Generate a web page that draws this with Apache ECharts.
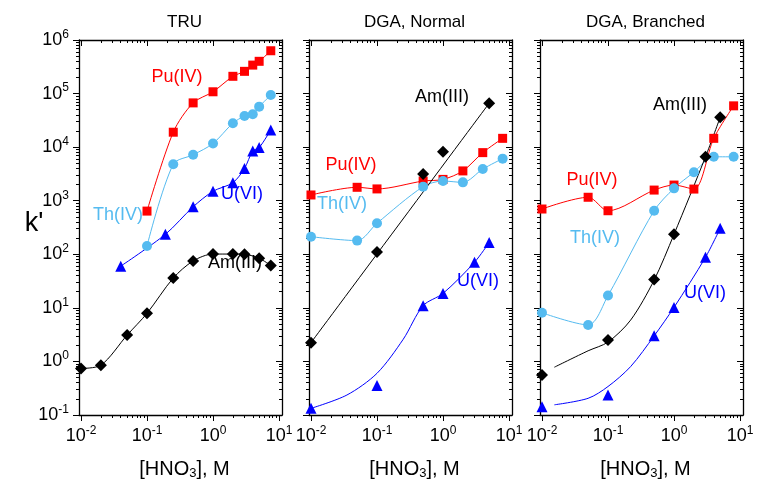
<!DOCTYPE html>
<html>
<head>
<meta charset="utf-8">
<script src="https://cdn.jsdelivr.net/npm/echarts@6.0.0/dist/echarts.min.js"></script>
<style>
  html, body { margin: 0; padding: 0; background: #fff; }
  #main { width: 759px; height: 486px; }
</style>
</head>
<body>
<div id="main"></div>
<script>
// ---- data: [HNO3] (M) and k' ----
// TRU
var truPuX = [0.1, 0.25, 0.5, 1, 2, 3, 4, 5, 7.5];
var truPuK = [640, 19000, 67000, 108000, 210000, 260000, 340000, 400000, 630000];
var truThX = [0.1, 0.25, 0.5, 1, 2, 3, 4, 5, 7.5];
var truThK = [143, 4800, 7200, 11700, 28000, 38000, 41000, 57000, 94000];
var truUX = [0.04, 0.19, 0.5, 1, 2, 3, 4, 5, 7.5];
var truUK = [60, 236, 770, 1500, 2170, 4000, 8500, 9800, 21000];
var truAmX = [0.01, 0.02, 0.05, 0.1, 0.25, 0.5, 1, 2, 3, 5, 7.5];
var truAmK = [0.74, 0.85, 3.1, 7.9, 36, 75, 101, 101, 100, 84, 62];

// DGA, Normal
var norPuX = [0.01, 0.05, 0.1, 0.5, 1, 2, 4, 8];
var norPuK = [1280, 1780, 1660, 2330, 2500, 3600, 7900, 14600];
var norThX = [0.01, 0.05, 0.1, 0.5, 1, 2, 4, 8];
var norThK = [213, 180, 380, 1830, 2330, 2200, 3900, 6100];
var norAmX = [0.01, 0.1, 0.5, 1, 5];
var norAmK = [2.24, 110, 3150, 8200, 66000];
var norAmFitX = [0.01, 5];
var norAmFitK = [2.24, 66000];
var norUX = [0.01, 0.1, 0.5, 1, 3, 5];
var norUK = [0.133, 0.355, 11, 18.6, 71, 166];
var norUFitX = [0.01, 0.035, 0.1, 0.25, 0.5, 1, 3, 5];
var norUFitK = [0.133, 0.236, 0.6, 2.6, 11, 18.6, 71, 166];

// DGA, Branched
var brPuX = [0.01, 0.05, 0.1, 0.5, 1, 2, 4, 8];
var brPuK = [700, 1160, 650, 1580, 1960, 1650, 14600, 59000];
var brThX = [0.01, 0.05, 0.1, 0.5, 1, 2, 4, 8];
var brThK = [8.1, 4.8, 17, 650, 1700, 3400, 6600, 6600];
var brAmX = [0.01, 0.1, 0.5, 1, 3, 5];
var brAmK = [0.56, 2.5, 34, 236, 6600, 36000];
var brAmFitX = [0.0154, 0.05, 0.1, 0.22, 0.5, 1, 3, 5];
var brAmFitK = [0.78, 1.58, 2.3, 5.9, 33, 236, 6600, 36000];
var brUX = [0.01, 0.1, 0.5, 1, 3, 5];
var brUK = [0.143, 0.236, 3.0, 10.2, 88, 305];
var brUFitX = [0.0154, 0.05, 0.1, 0.22, 0.5, 1, 3, 5];
var brUFitK = [0.155, 0.205, 0.34, 0.8, 3.0, 10.2, 88, 305];

var panelTitles = ['TRU', 'DGA, Normal', 'DGA, Branched'];
var xTickPowers = [-2, -1, 0, 1];
var yTickPowers = [-1, 0, 1, 2, 3, 4, 5, 6];

// ---- layout / style ----
var FONT = '"Liberation Sans", Arial, sans-serif';
var gridLeft = [79, 309, 540];
var gridW = 203, gridTop = 40, gridH = 375;
var xMin = -2.03, xMax = 1.045, yMin = -1, yMax = 6;

var RED = '#ff0000', LBLUE = '#55bbf0', BLUE = '#0000ff', BLACK = '#000000';

function pairs(xs, ks) {
  return xs.map(function (x, i) { return [Math.log10(x), Math.log10(ks[i])]; });
}
function minors(lo, hi) {
  var out = [];
  for (var n = Math.floor(lo); n < hi; n++) {
    for (var k = 2; k <= 9; k++) {
      var v = n + Math.log10(k);
      if (v > lo && v < hi) out.push(v);
    }
  }
  return out;
}
function powLabel(v) {
  var p = Math.round(v);
  return '{b|10}{s|' + (p < 0 ? '-' + (-p) : p) + '}';
}
var labelRich = {
  b: { fontSize: 18, fontFamily: FONT, color: '#000' },
  s: { fontSize: 12, fontFamily: FONT, color: '#000', padding: [0, 0, 11, 0] }
};

function axisCommon(min, max, pos, major, inside, ticks) {
  return {
    type: 'value', min: min, max: max, position: pos,
    axisLine: { show: major, onZero: false, lineStyle: { color: '#000', width: 1.3 } },
    axisTick: { show: true, inside: inside, length: major ? 6 : 3, customValues: ticks, lineStyle: { color: '#000', width: 1 } },
    axisLabel: { show: false },
    splitLine: { show: false }
  };
}

var xAxes = [], yAxes = [], grids = [], titles = [];
for (var g = 0; g < 3; g++) {
  grids.push({ left: gridLeft[g], top: gridTop, width: gridW, height: gridH, containLabel: false, outerBoundsMode: 'none' });
  titles.push({
    text: panelTitles[g], left: gridLeft[g] + gridW / 2 - 1, top: 9, textAlign: 'center',
    textStyle: { fontSize: 17, fontWeight: 'normal', fontFamily: FONT, color: '#000' }
  });

  var xb = axisCommon(xMin, xMax, 'bottom', true, false, xTickPowers);
  xb.axisLabel = { show: true, customValues: xTickPowers, formatter: powLabel, rich: labelRich, margin: 10 };
  xb.name = '[HNO{sub|3}], M';
  xb.nameLocation = 'middle';
  xb.nameGap = 43;
  xb.nameTextStyle = { fontSize: 20, fontFamily: FONT, color: '#000', padding: [0, 0, 0, 8],
    rich: { sub: { fontSize: 13, fontFamily: FONT, color: '#000', padding: [9, 0, 0, 0] } } };
  xAxes.push(xb);
  xAxes.push(axisCommon(xMin, xMax, 'bottom', false, false, minors(xMin, xMax)));
  xAxes.push(axisCommon(xMin, xMax, 'top', true, true, xTickPowers));
  xAxes.push(axisCommon(xMin, xMax, 'top', false, true, minors(xMin, xMax)));

  var yl = axisCommon(yMin, yMax, 'left', true, false, yTickPowers);
  yl.axisLabel = { show: g === 0, customValues: yTickPowers, formatter: powLabel, rich: labelRich, margin: 10 };
  yAxes.push(yl);
  yAxes.push(axisCommon(yMin, yMax, 'left', false, false, minors(yMin, yMax)));
  yAxes.push(axisCommon(yMin, yMax, 'right', true, true, yTickPowers));
  yAxes.push(axisCommon(yMin, yMax, 'right', false, true, minors(yMin, yMax)));

  for (var a = 0; a < 4; a++) {
    xAxes[g * 4 + a].gridIndex = g;
    yAxes[g * 4 + a].gridIndex = g;
  }
}

var symbols = { Pu: ['rect', 9], Th: ['circle', 10], U: ['triangle', 11], Am: ['diamond', 12] };
var colors = { Pu: RED, Th: LBLUE, U: BLUE, Am: BLACK };

var series = [];
// curve drawn through the given points
function curve(g, sp, xs, ks) {
  series.push({
    type: 'line', xAxisIndex: g * 4, yAxisIndex: g * 4, data: pairs(xs, ks),
    smooth: 0.3, showSymbol: false, symbol: 'none', z: 2,
    lineStyle: { color: colors[sp], width: 1 }, silent: true
  });
}
function points(g, sp, xs, ks) {
  series.push({
    type: 'scatter', xAxisIndex: g * 4, yAxisIndex: g * 4, data: pairs(xs, ks),
    symbol: symbols[sp][0], symbolSize: symbols[sp][1], z: 3,
    itemStyle: { color: colors[sp], opacity: 1 }
  });
}

// TRU
curve(0, 'Pu', truPuX, truPuK); points(0, 'Pu', truPuX, truPuK);
curve(0, 'Th', truThX, truThK); points(0, 'Th', truThX, truThK);
curve(0, 'U', truUX, truUK); points(0, 'U', truUX, truUK);
curve(0, 'Am', truAmX, truAmK); points(0, 'Am', truAmX, truAmK);
// DGA, Normal
curve(1, 'Pu', norPuX, norPuK); points(1, 'Pu', norPuX, norPuK);
curve(1, 'Th', norThX, norThK); points(1, 'Th', norThX, norThK);
curve(1, 'Am', norAmFitX, norAmFitK); points(1, 'Am', norAmX, norAmK);
curve(1, 'U', norUFitX, norUFitK); points(1, 'U', norUX, norUK);
// DGA, Branched
curve(2, 'Pu', brPuX, brPuK); points(2, 'Pu', brPuX, brPuK);
curve(2, 'Th', brThX, brThK); points(2, 'Th', brThX, brThK);
curve(2, 'Am', brAmFitX, brAmFitK); points(2, 'Am', brAmX, brAmK);
curve(2, 'U', brUFitX, brUFitK); points(2, 'U', brUX, brUK);

// species labels placed like the original annotations
var speciesLabels = [
  ['Pu(IV)', RED, 177, 77], ['Th(IV)', LBLUE, 118, 215], ['U(VI)', BLUE, 242, 194], ['Am(III)', BLACK, 235, 263],
  ['Am(III)', BLACK, 442, 97], ['Pu(IV)', RED, 351, 165], ['Th(IV)', LBLUE, 342, 204], ['U(VI)', BLUE, 478, 281],
  ['Am(III)', BLACK, 680, 105], ['Pu(IV)', RED, 592, 180], ['Th(IV)', LBLUE, 595, 238], ['U(VI)', BLUE, 705, 293]
];
var graphics = speciesLabels.map(function (l) {
  return {
    type: 'text', x: l[2], y: l[3], z: 10,
    style: { text: l[0], fill: l[1], fontSize: 18, fontFamily: FONT, align: 'center', verticalAlign: 'middle' }
  };
});
graphics.push({
  type: 'text', x: 34, y: 224,
  style: { text: "k'", fill: '#000', fontSize: 27, fontFamily: FONT, align: 'center', verticalAlign: 'middle' }
});

var chart = echarts.init(document.getElementById('main'));
chart.setOption({
  animation: false,
  backgroundColor: '#fff',
  title: titles,
  grid: grids,
  xAxis: xAxes,
  yAxis: yAxes,
  graphic: graphics,
  series: series
});
</script>
</body>
</html>
